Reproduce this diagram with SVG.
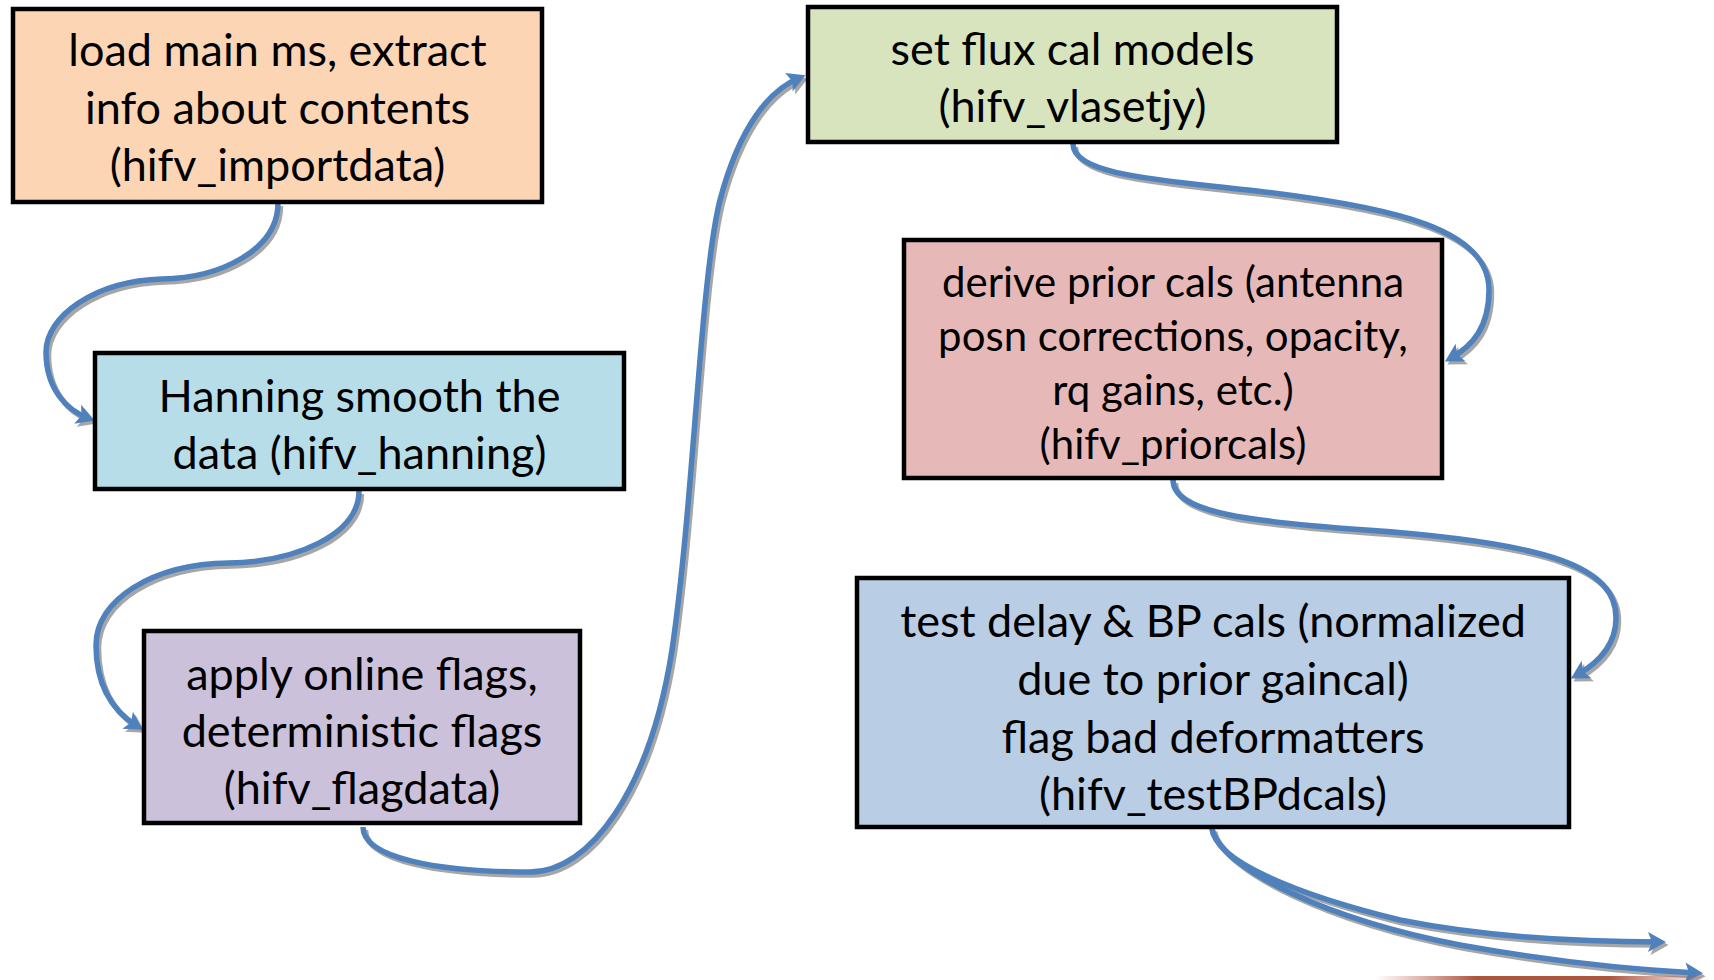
<svg xmlns="http://www.w3.org/2000/svg" width="1714" height="980" viewBox="0 0 1714 980">
<defs>
<style>
.box{stroke:#000;stroke-width:4.5}
.t{font-family:Lato,"Carlito","Liberation Sans",sans-serif;font-size:45px;fill:#000;text-anchor:middle}
.t2{font-size:42px}
.c{fill:none;stroke:#4F81BD;stroke-width:5.5;marker-end:url(#ah)}
.s{fill:none;stroke:#A6A6A6;stroke-width:5.5;marker-end:url(#ahs)}
</style>
<marker id="ah" markerUnits="userSpaceOnUse" viewBox="-14 -12 24 24" refX="0" refY="0" markerWidth="24" markerHeight="24" orient="auto" overflow="visible">
<path d="M-11,-10 L7,0 L-11,10 L-7,0 z" fill="#4F81BD"/>
</marker>
<marker id="ahs" markerUnits="userSpaceOnUse" viewBox="-14 -12 24 24" refX="0" refY="0" markerWidth="24" markerHeight="24" orient="auto" overflow="visible">
<path d="M-11,-10 L7,0 L-11,10 L-7,0 z" fill="#A6A6A6"/>
</marker>
<linearGradient id="band" x1="0" x2="1" y1="0" y2="0">
<stop offset="0" stop-color="#C0504D" stop-opacity="0"/>
<stop offset="0.3" stop-color="#A0442A" stop-opacity="0.9"/>
<stop offset="0.7" stop-color="#A0442A" stop-opacity="0.9"/>
<stop offset="1" stop-color="#C0504D" stop-opacity="0"/>
</linearGradient>
</defs>
<rect width="1714" height="980" fill="#fff"/>

<g id="connectors">
<g transform="translate(2.5,3)">
<path class="s" d="M278,203 C278,250 220,278 162,279 C95,281 46,316 46,352 C46,388 66,410 88,418"/>
<path class="s" d="M359,491 C359,535 295,562 229,563 C152,564 96,600 96,645 C96,690 116,713 137,726"/>
<path class="s" d="M363,827 C363,858 437,872 530,872 C590,872 650,790 672,650 C694,500 700,280 720,200 C740,125 770,90 799,78"/>
<path class="s" d="M1073,144 C1073,175 1159,180 1257,191 C1399,208 1489,230 1489,290 C1489,328 1472,346 1451,358"/>
<path class="s" d="M1173,480 C1173,514 1257,522 1366,530 C1552,543 1616,568 1616,618 C1616,645 1598,663 1577,675"/>
<path class="s" d="M1212,829 C1216,860 1290,893 1400,920 C1490,938 1580,942 1659,942"/>
<path class="s" d="M1212,829 C1222,870 1330,920 1460,945 C1560,963 1640,970 1696,973"/>
</g>
<path class="c" d="M278,203 C278,250 220,278 162,279 C95,281 46,316 46,352 C46,388 66,410 88,418"/>
<path class="c" d="M359,491 C359,535 295,562 229,563 C152,564 96,600 96,645 C96,690 116,713 137,726"/>
<path class="c" d="M363,827 C363,858 437,872 530,872 C590,872 650,790 672,650 C694,500 700,280 720,200 C740,125 770,90 799,78"/>
<path class="c" d="M1073,144 C1073,175 1159,180 1257,191 C1399,208 1489,230 1489,290 C1489,328 1472,346 1451,358"/>
<path class="c" d="M1173,480 C1173,514 1257,522 1366,530 C1552,543 1616,568 1616,618 C1616,645 1598,663 1577,675"/>
<path class="c" d="M1212,829 C1216,860 1290,893 1400,920 C1490,938 1580,942 1659,942"/>
<path class="c" d="M1212,829 C1222,870 1330,920 1460,945 C1560,963 1640,970 1696,973"/>
</g>

<g id="n1">
<rect class="box" x="13" y="9" width="529" height="193" fill="#FCD5B5"/>
<text class="t" x="277.5" y="66">load main ms, extract</text>
<text class="t" x="277.5" y="124">info about contents</text>
<text class="t" x="277.5" y="181">(hifv_importdata)</text>
</g>
<g id="n2">
<rect class="box" x="95" y="353" width="529" height="136" fill="#B7DEE8"/>
<text class="t" x="359.5" y="412">Hanning smooth the</text>
<text class="t" x="359.5" y="469">data (hifv_hanning)</text>
</g>
<g id="n3">
<rect class="box" x="144" y="631" width="436" height="192" fill="#CCC1DA"/>
<text class="t" x="362" y="690">apply online flags,</text>
<text class="t" x="362" y="747">deterministic flags</text>
<text class="t" x="362" y="804">(hifv_flagdata)</text>
</g>
<g id="n4">
<rect class="box" x="808" y="7" width="529" height="135" fill="#D7E4BD"/>
<text class="t" x="1072.5" y="65">set flux cal models</text>
<text class="t" x="1072.5" y="122">(hifv_vlasetjy)</text>
</g>
<g id="n5">
<rect class="box" x="904" y="240" width="538" height="238" fill="#E6B9B8"/>
<text class="t t2" x="1173" y="297">derive prior cals (antenna</text>
<text class="t t2" x="1173" y="351">posn corrections, opacity,</text>
<text class="t t2" x="1173" y="405">rq gains, etc.)</text>
<text class="t t2" x="1173" y="459">(hifv_priorcals)</text>
</g>
<g id="n6">
<rect class="box" x="857" y="578" width="712" height="249" fill="#B9CDE5"/>
<text class="t" x="1213" y="637">test delay &amp; BP cals (normalized</text>
<text class="t" x="1213" y="695">due to prior gaincal)</text>
<text class="t" x="1213" y="753">flag bad deformatters</text>
<text class="t" x="1213" y="810">(hifv_testBPdcals)</text>
</g>
<rect x="1375" y="976" width="335" height="4" fill="url(#band)"/>
</svg>
